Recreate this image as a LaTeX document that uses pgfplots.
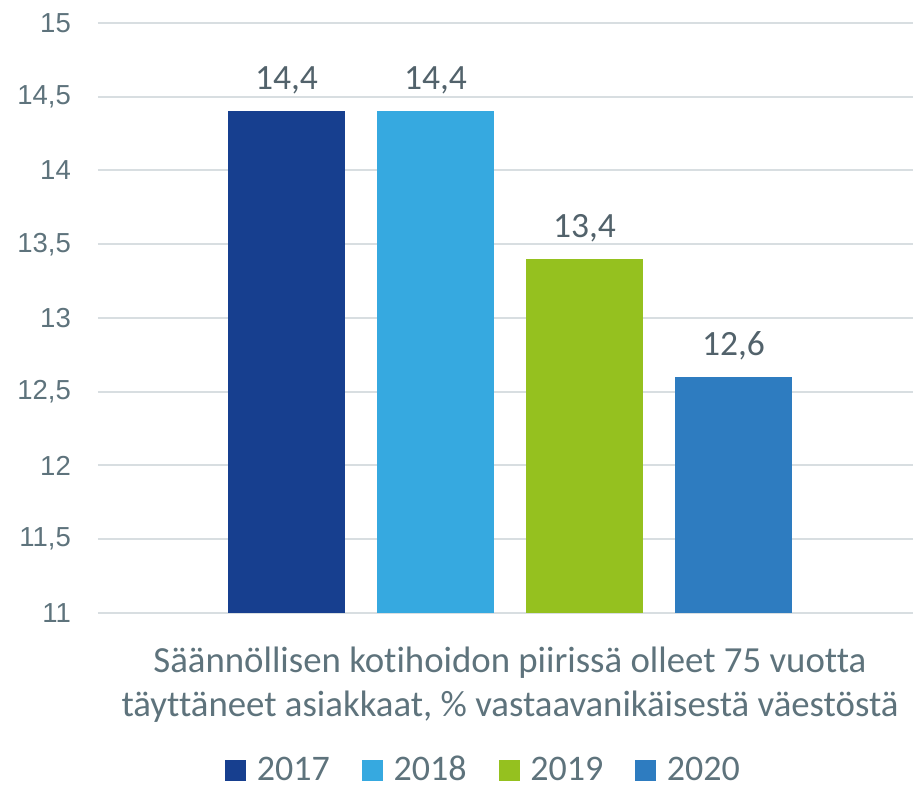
\documentclass[border=0pt]{standalone}
\usepackage{fontspec}
\setmainfont{Carlito}[Ligatures=NoCommon]
\newfontfamily\tickfont{Liberation Sans}
\usepackage{pgfplots}
\pgfplotsset{compat=1.18}
\definecolor{c2017}{HTML}{173F8F}
\definecolor{c2018}{HTML}{36A9E0}
\definecolor{c2019}{HTML}{95C11F}
\definecolor{c2020}{HTML}{2E7CC0}
\definecolor{txtc}{HTML}{5E737C}
\definecolor{lblc}{HTML}{52626B}
\definecolor{gridc}{HTML}{D8DEE1}
\begin{document}
\begin{tikzpicture}
\begin{axis}[
  scale only axis, width=815pt, height=590pt,
  xmin=-412, xmax=403, ymin=11, ymax=15,
  ybar=31.5pt, bar width=117.5,
  ytick={11,11.5,12,12.5,13,13.5,14,14.5,15},
  ymajorgrids, grid style={draw=gridc, line width=2pt},
  axis line style={draw=none}, major tick length=0pt, tick style={draw=none},
  yticklabel style={font=\tickfont\fontsize{27.5}{33}\selectfont, text=txtc, inner sep=0pt, anchor=east, xshift=-27pt, /pgf/number format/.cd, use comma, assume math mode=true},
  xtick={0},
  xticklabels={{Säännöllisen kotihoidon piirissä olleet 75 vuotta\\täyttäneet asiakkaat{,} \% vastaavanikäisestä väestöstä}},
  xticklabel style={font=\fontsize{36.8}{43.3}\selectfont, text=txtc, align=center, anchor=north, inner sep=0pt, yshift=-34pt},
  nodes near coords,
  nodes near coords style={font=\fontsize{35.5}{40}\selectfont, text=lblc, anchor=base, inner sep=0pt, yshift=21.7pt, /pgf/number format/.cd, use comma, fixed, fixed zerofill, precision=1, assume math mode=true},
  legend style={at={(axis description cs:0.1558,-0.265)}, anchor=west, legend columns=4, draw=none, fill=none, inner sep=0pt, font=\fontsize{36}{43}\selectfont, nodes={inner sep=0pt, text=txtc}, /tikz/every even column/.append style={column sep=32pt}, /tikz/every odd column/.append style={column sep=10.7pt}},
  legend image code/.code={\fill[#1] (0pt,-12pt) rectangle (21pt,9pt);},
]
\addplot[fill=c2017, draw=none] coordinates {(0,14.4)};
\addlegendentry{2017}
\addplot[fill=c2018, draw=none] coordinates {(0,14.4)};
\addlegendentry{2018}
\addplot[fill=c2019, draw=none] coordinates {(0,13.4)};
\addlegendentry{2019}
\addplot[fill=c2020, draw=none] coordinates {(0,12.6)};
\addlegendentry{2020}
\end{axis}
\pgfresetboundingbox
\path ([xshift=-98pt,yshift=-176pt]current axis.south west) rectangle ([yshift=23pt]current axis.north east);
\end{tikzpicture}
\end{document}
